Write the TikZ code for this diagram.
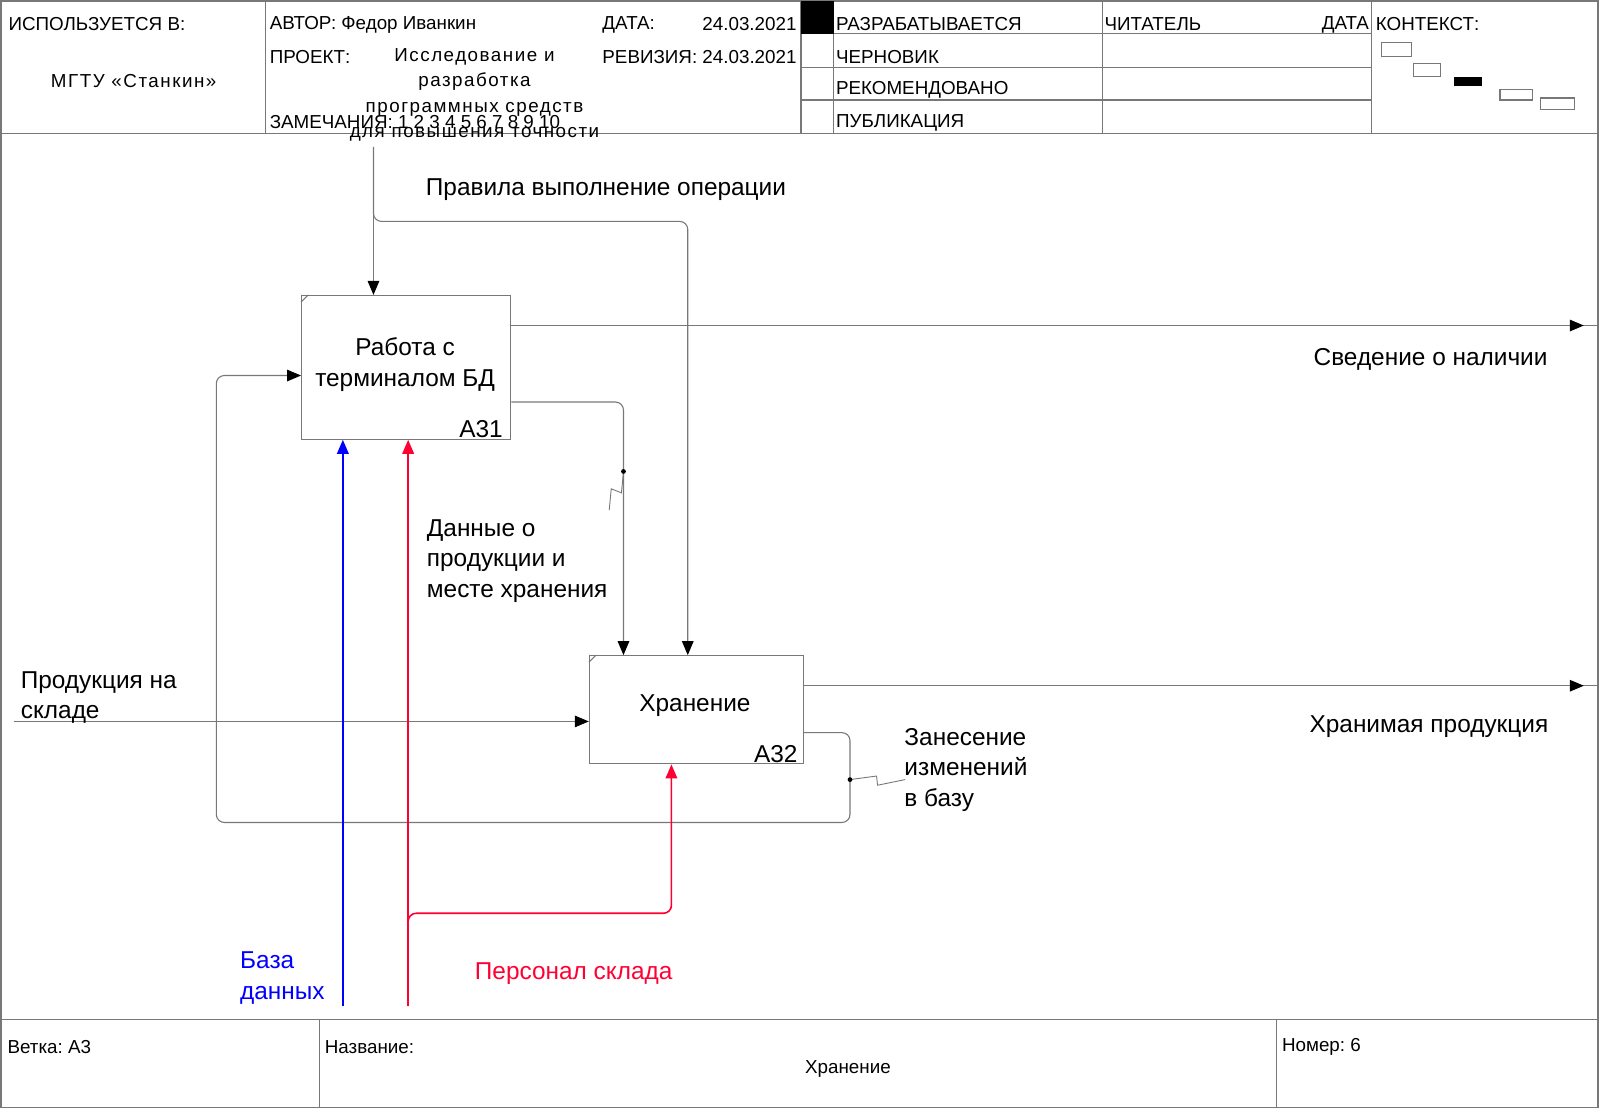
\documentclass[tikz,border=0pt]{standalone}
\usepackage{fontspec}
\setmainfont{Liberation Sans}
\usetikzlibrary{arrows.meta}
\definecolor{linegray}{RGB}{120,120,120}
\definecolor{mechred}{RGB}{255,0,51}
\definecolor{mechblue}{RGB}{0,0,255}
\frenchspacing

\begin{document}
\begin{tikzpicture}[x=0.5102pt, y=-0.5102pt,
  rule/.style={draw=linegray, line width=0.55pt},
  hdr/.style={font=\fontsize{9.4}{12.75}\selectfont, inner sep=0pt, anchor=west, yshift=-1pt},
  spaced/.style={font=\fontsize{9.4}{12.75}\selectfont\addfontfeature{LetterSpace=8}},
  lbl/.style={font=\fontsize{12.2}{15.3}\selectfont, inner sep=0pt, anchor=west, align=left, yshift=-1.3pt},
  func/.style={draw=linegray, line width=0.55pt, anchor=north west, inner sep=0pt},
  functext/.style={font=\fontsize{12.2}{15.3}\selectfont, inner sep=0pt, align=center, yshift=-1.3pt},
  fnum/.style={font=\fontsize{12.2}{15.3}\selectfont, inner sep=0pt, anchor=base east},
  conn/.style={draw=linegray, line width=0.55pt, rounded corners=4pt},
  tip/.style={-{Triangle[length=7pt,width=5.8pt,color=black]}},
  mech/.style={draw=#1, line width=0.8pt, rounded corners=4pt,
    -{Triangle[length=7pt,width=5.8pt,color=#1]}},
  squig/.style={draw=linegray, line width=0.45pt},
  joint/.style={fill=black, draw=none}
]
\useasboundingbox (0,0) rectangle (1568,1086);

% ---------- outer frame, header and footer grid ----------
\draw[rule] (1,1) rectangle (1566,1085);
\draw[rule] (1,131) -- (1566,131);
\draw[rule] (1,999) -- (1566,999);
\foreach \xx in {260,785,817,1080,1344} \draw[rule] (\xx,1) -- (\xx,131);
\foreach \yy in {33,66,98} \draw[rule] (785,\yy) -- (1344,\yy);
\fill[black] (785,1) rectangle (817,33);
\draw[rule] (313,999) -- (313,1085);
\draw[rule] (1251,999) -- (1251,1085);

% ---------- header texts ----------
\node[hdr] (usedin) at (8,22) {ИСПОЛЬЗУЕТСЯ В:};
\node[hdr, spaced, anchor=center] (org) at (131,77) {МГТУ «Станкин»};
\node[hdr] (author) at (264,22) {АВТОР: Федор Иванкин};
\node[hdr] (datek) at (590,22) {ДАТА:};
\node[hdr, anchor=east] (datev) at (781,22) {24.03.2021};
\node[hdr] (proj) at (264,54) {ПРОЕКТ:};
\node[hdr, spaced, anchor=center, align=center] (projname) at (465,91)
  {Исследование и\\разработка\\программных средств\\для повышения точности};
\node[hdr] (rev) at (590,54) {РЕВИЗИЯ: 24.03.2021};
\node[hdr] (notes) at (264,118) {ЗАМЕЧАНИЯ: 1 2 3 4 5 6 7 8 9 10};
\node[hdr] (st1) at (819,22) {РАЗРАБАТЫВАЕТСЯ};
\node[hdr] (st2) at (819,54) {ЧЕРНОВИК};
\node[hdr] (st3) at (819,86) {РЕКОМЕНДОВАНО};
\node[hdr] (st4) at (819,118) {ПУБЛИКАЦИЯ};
\node[hdr] (reader) at (1082,22) {ЧИТАТЕЛЬ};
\node[hdr, anchor=east] (rdate) at (1342,22) {ДАТА};
\node[hdr] (ctx) at (1348,22) {КОНТЕКСТ:};

% context map
\draw[rule] (1354,42) rectangle (1383,55);
\draw[rule] (1385,62) rectangle (1412,75);
\fill[black] (1425,75) rectangle (1452,84);
\draw[rule] (1470,88) rectangle (1502,98);
\draw[rule] (1510,96) rectangle (1543,107);

% ---------- footer texts ----------
\node[hdr] (branch) at (7,1024) {Ветка: А3};
\node[hdr] (titlek) at (318,1024) {Название:};
\node[hdr, anchor=center] (titlev) at (831,1046) {Хранение};
\node[hdr] (number) at (1256,1024) {Номер: 6};

% ---------- function blocks ----------
\node[func, minimum width=104.6pt, minimum height=71.9pt] (a31) at (295,289) {};
\node[functext] (a31t) at (397,355) {Работа с\\терминалом БД};
\node[fnum] (a31n) at ([shift={(-8,-2)}]a31.south east) {А31};
\draw[rule] ([shift={(0,7)}]a31.north west) -- ([shift={(7,0)}]a31.north west);

\node[func, minimum width=107.1pt, minimum height=54.1pt] (a32) at (577,642) {};
\node[functext] (a32t) at (681,689) {Хранение};
\node[fnum] (a32n) at ([shift={(-6,-2)}]a32.south east) {А32};
\draw[rule] ([shift={(0,7)}]a32.north west) -- ([shift={(7,0)}]a32.north west);

% ---------- connector end points and bends ----------
\coordinate (ctop) at (366,144);
\coordinate (cbend) at (674,217);
\coordinate (o1end) at (1566,319);
\coordinate (o2end) at (1566,672);
\coordinate (dbend) at (611,394);
\coordinate (inbeg) at (14,707);
\coordinate (fb1) at (833,718);
\coordinate (fb2) at (833,806);
\coordinate (fb3) at (212,806);
\coordinate (fb4) at (212,368);
\coordinate (mbbeg) at (336,986);
\coordinate (mrbeg) at (400,986);
\coordinate (mrbend) at (658,895);
\coordinate (dj) at (611,462);
\coordinate (fj) at (833,764);

% ---------- connectors ----------
\draw[conn, tip] (ctop) -- (ctop |- a31.north);
\draw[conn, tip] (ctop) -- (ctop |- cbend) -- (cbend) -- (cbend |- a32.north);
% boundary outputs: the line runs on to the frame, the head stops short of it
\draw[conn] (a31.east |- o1end) -- (o1end);
\draw[conn, tip] (a31.east |- o1end) -- ([xshift=-7.1pt]o1end);
\draw[conn, tip] (a31.east |- dbend) -- (dbend) -- (dbend |- a32.north);
\draw[conn, tip] (inbeg) -- (inbeg -| a32.west);
\draw[conn] (a32.east |- o2end) -- (o2end);
\draw[conn, tip] (a32.east |- o2end) -- ([xshift=-7.1pt]o2end);
\draw[conn, tip] (a32.east |- fb1) -- (fb1) -- (fb2) -- (fb3) -- (fb4) -- (fb4 -| a31.west);
\draw[mech=mechblue] (mbbeg) -- (mbbeg |- a31.south);
\draw[mech=mechred] (mrbeg) -- (mrbeg |- a31.south);
\draw[mech=mechred] (mrbeg) -- (mrbeg |- mrbend) -- (mrbend) -- (mrbend |- a32.south);

% label leaders
\draw[squig] (dj) -- (609,483) -- (599,479) -- (597,500);
\fill[joint] (dj) circle (1.2pt);
\draw[squig] (fj) -- (859,760.5) -- (860,769.5) -- (887,764);
\fill[joint] (fj) circle (1.2pt);

% ---------- arrow labels ----------
\node[lbl] (lrules) at (417,183) {Правила выполнение операции};
\node[lbl] (lavail) at (1287,350) {Сведение о наличии};
\node[lbl] (ldata) at (418,547) {Данные о\\продукции и\\месте хранения};
\node[lbl] (lin) at (20,681) {Продукция на\\складе};
\node[lbl] (lstored) at (1283,710) {Хранимая продукция};
\node[lbl] (lchg) at (886,752) {Занесение\\изменений\\в базу};
\node[lbl, text=mechblue] (ldb) at (235,956) {База\\данных};
\node[lbl, text=mechred] (lstaff) at (465,952) {Персонал склада};
\end{tikzpicture}
\end{document}
